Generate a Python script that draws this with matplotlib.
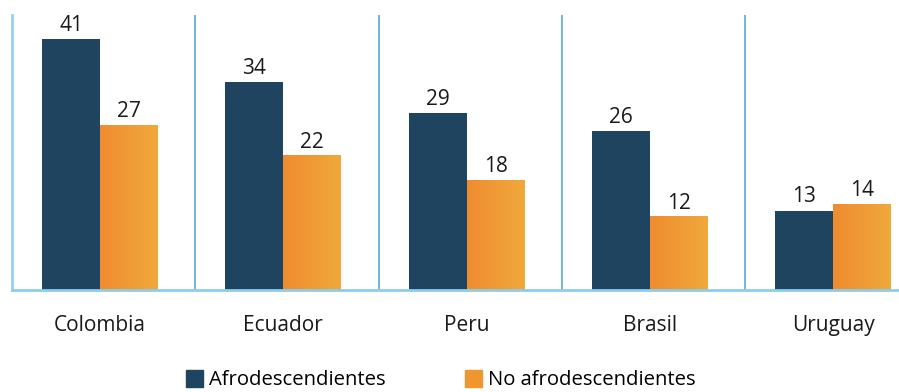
import numpy as np
import matplotlib.pyplot as plt
from matplotlib.colors import LinearSegmentedColormap
from matplotlib.patches import Patch

plt.rcParams['font.family'] = ['Open Sans', 'DejaVu Sans']

paises = ['Colombia', 'Ecuador', 'Peru', 'Brasil', 'Uruguay']
afro = [41, 34, 29, 26, 13]
no_afro = [27, 22, 18, 12, 14]

azul = '#1F4460'
naranja_grad = LinearSegmentedColormap.from_list('nar', ['#F08C31', '#EFA93B'])

fig = plt.figure(figsize=(8.99, 3.92), dpi=100)
ax = fig.add_axes([12 / 899, 102 / 392, 887 / 899, 275 / 392])

n = len(paises)
x = np.arange(n)
w = 0.316
off = 0.164
ax.set_xlim(0, 887 / 183.3)
ax.set_ylim(0, 45)

ax.bar(x + off, afro, width=w, align='edge', color=azul, zorder=2)

grad = np.linspace(0, 1, 64).reshape(1, -1)
for i, v in enumerate(no_afro):
    x0 = i + off + w
    ax.imshow(grad, extent=[x0, x0 + w, 0, v], aspect='auto', cmap=naranja_grad,
              zorder=2, interpolation='bilinear')

for i in range(n):
    ax.text(i + off + w / 2, afro[i] + 0.5, str(afro[i]), ha='center', va='bottom',
            fontsize=15, color='#1a1a1a')
    ax.text(i + off + 1.5 * w, no_afro[i] + 0.5, str(no_afro[i]), ha='center', va='bottom',
            fontsize=15, color='#1a1a1a')

# separadores entre países
for i in range(1, n):
    ax.axvline(i, color='#5AAAD3', lw=1.2, zorder=1)

for s in ['top', 'right']:
    ax.spines[s].set_visible(False)
ax.spines['left'].set_color('#9AD2EC')
ax.spines['left'].set_linewidth(2)
ax.spines['bottom'].set_color('#8DCDEB')
ax.spines['bottom'].set_linewidth(2)
ax.spines['bottom'].set_zorder(3)

ax.set_yticks([])
ax.set_xticks(x + off + w)
ax.set_xticklabels(paises, fontsize=15, color='#1a1a1a')
ax.tick_params(axis='x', length=0, pad=18)

handles = [Patch(color=azul, label='Afrodescendientes'),
           Patch(color='#F0962F', label='No afrodescendientes')]
fig.legend(handles=handles, loc='center', bbox_to_anchor=(0.49, 0.03), ncol=2,
           frameon=False, fontsize=14.6, handlelength=0.85, handleheight=0.9,
           handletextpad=0.3, columnspacing=3.9)

fig.savefig('out.png', dpi=100)
